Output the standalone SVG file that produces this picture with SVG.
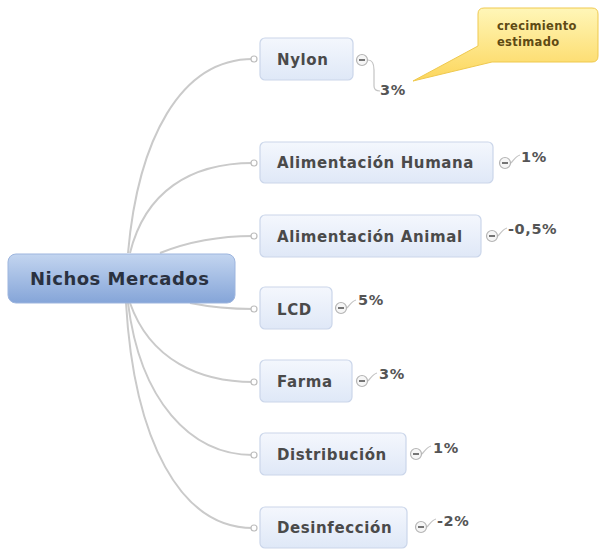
<svg xmlns="http://www.w3.org/2000/svg" width="603" height="549" viewBox="0 0 603 549">
<defs>
<linearGradient id="gNode" x1="0" y1="0" x2="0" y2="1"><stop offset="0" stop-color="#f4f7fd"/><stop offset="1" stop-color="#dfe8f7"/></linearGradient>
<linearGradient id="gRoot" x1="0" y1="0" x2="0" y2="1"><stop offset="0" stop-color="#c3d5f0"/><stop offset="1" stop-color="#85a5d8"/></linearGradient>
<linearGradient id="gNote" x1="0" y1="0" x2="0" y2="1"><stop offset="0" stop-color="#fff6b8"/><stop offset="1" stop-color="#fcd65c"/></linearGradient>
<style>
.conn{fill:none;stroke:#cacaca;stroke-width:2}
.tick{fill:none;stroke:#c4c4c4;stroke-width:1.2}
.dot{fill:#fff;stroke:#bdbdbd;stroke-width:1.2}
.node{fill:url(#gNode);stroke:#cbd6ea;stroke-width:1.2}
.lbl{font-family:"DejaVu Sans",Verdana,sans-serif;font-weight:bold;font-size:15px;letter-spacing:0.6px;fill:#4a4a4a}
.pct{font-family:"DejaVu Sans",Verdana,sans-serif;font-weight:bold;font-size:14.5px;letter-spacing:0.6px;fill:#555}
.col{fill:#f6f6f6;stroke:#b5b5b5;stroke-width:1.2}
.minus{stroke:#555;stroke-width:1.6}
</style>
</defs>
<rect width="603" height="549" fill="#fff"/>
<g id="connectors">
<path class="conn" d="M128,253 C138,140 180,59 253,59"/>
<path class="conn" d="M130,253 C145,192 190,163 253,163"/>
<path class="conn" d="M160,253 C190,241 220,236 253,236"/>
<path class="conn" d="M190,303 C215,308 235,309 253,309"/>
<path class="conn" d="M130,303 C150,360 200,382 253,382"/>
<path class="conn" d="M128,303 C140,400 190,455 253,455"/>
<path class="conn" d="M126,303 C134,440 180,528 253,528"/>
<circle class="dot" cx="254" cy="59" r="3"/>
<circle class="dot" cx="254" cy="163" r="3"/>
<circle class="dot" cx="254" cy="236" r="3"/>
<circle class="dot" cx="254" cy="309" r="3"/>
<circle class="dot" cx="254" cy="382" r="3"/>
<circle class="dot" cx="254" cy="455" r="3"/>
<circle class="dot" cx="254" cy="528" r="3"/>
</g>
<g id="root">
<rect x="8" y="254" width="227" height="49" rx="8" fill="url(#gRoot)" stroke="#9db5de" stroke-width="1"/>
<text x="30" y="285" font-family="DejaVu Sans,Verdana,sans-serif" font-weight="bold" font-size="18" letter-spacing="0.5" fill="#2a3140">Nichos Mercados</text>
</g>
<g id="nylon">
<rect class="node" x="260" y="38" width="93" height="42" rx="5"/>
<text class="lbl" x="277" y="65">Nylon</text>
<path class="tick" d="M368,60 C373,60 374,64 374,70 L374,86 C374,90 376,91 380,91"/>
<circle class="col" cx="362" cy="60" r="5.5"/><line class="minus" x1="359" y1="60" x2="365" y2="60"/>
<text class="pct" x="380" y="95">3%</text>
</g>
<g id="alimentacion-humana">
<rect class="node" x="260" y="142" width="233" height="41" rx="5"/>
<text class="lbl" x="277" y="168">Alimentación Humana</text>
<path class="tick" d="M511,163 C514,160 516,156 520,155"/>
<circle class="col" cx="505" cy="163" r="5.5"/><line class="minus" x1="502" y1="163" x2="508" y2="163"/>
<text class="pct" x="521" y="162">1%</text>
</g>
<g id="alimentacion-animal">
<rect class="node" x="260" y="215" width="221" height="42" rx="5"/>
<text class="lbl" x="277" y="242">Alimentación Animal</text>
<path class="tick" d="M498,236 C501,233 503,229 507,228"/>
<circle class="col" cx="492" cy="236" r="5.5"/><line class="minus" x1="489" y1="236" x2="495" y2="236"/>
<text class="pct" x="508" y="234">-0,5%</text>
</g>
<g id="lcd">
<rect class="node" x="260" y="287" width="72" height="42" rx="5"/>
<text class="lbl" x="277" y="315">LCD</text>
<path class="tick" d="M347,308 C350,305 352,301 356,300"/>
<circle class="col" cx="341" cy="308" r="5.5"/><line class="minus" x1="338" y1="308" x2="344" y2="308"/>
<text class="pct" x="358" y="305">5%</text>
</g>
<g id="farma">
<rect class="node" x="260" y="360" width="92" height="42" rx="5"/>
<text class="lbl" x="277" y="387">Farma</text>
<path class="tick" d="M368,381 C371,378 373,374 377,373"/>
<circle class="col" cx="362" cy="381" r="5.5"/><line class="minus" x1="359" y1="381" x2="365" y2="381"/>
<text class="pct" x="379" y="379">3%</text>
</g>
<g id="distribucion">
<rect class="node" x="260" y="433" width="146" height="42" rx="5"/>
<text class="lbl" x="277" y="460">Distribución</text>
<path class="tick" d="M422,454 C425,451 427,447 431,446"/>
<circle class="col" cx="416" cy="454" r="5.5"/><line class="minus" x1="413" y1="454" x2="419" y2="454"/>
<text class="pct" x="433" y="453">1%</text>
</g>
<g id="desinfeccion">
<rect class="node" x="260" y="507" width="147" height="41" rx="5"/>
<text class="lbl" x="277" y="533">Desinfección</text>
<path class="tick" d="M427,527 C430,524 432,520 436,519"/>
<circle class="col" cx="421" cy="527" r="5.5"/><line class="minus" x1="418" y1="527" x2="424" y2="527"/>
<text class="pct" x="437" y="526">-2%</text>
</g>
<g id="note">
<path d="M484,8 H592 Q598,8 598,14 V56 Q598,62 592,62 H492 L413,81 L478,46 V14 Q478,8 484,8 Z" fill="url(#gNote)" stroke="#efc94f" stroke-width="1"/>
<text font-family="DejaVu Sans,Verdana,sans-serif" font-weight="bold" font-size="11.5" letter-spacing="0.3" fill="#5e4a14"><tspan x="497" y="30">crecimiento</tspan><tspan x="497" y="46">estimado</tspan></text>
</g>
</svg>
